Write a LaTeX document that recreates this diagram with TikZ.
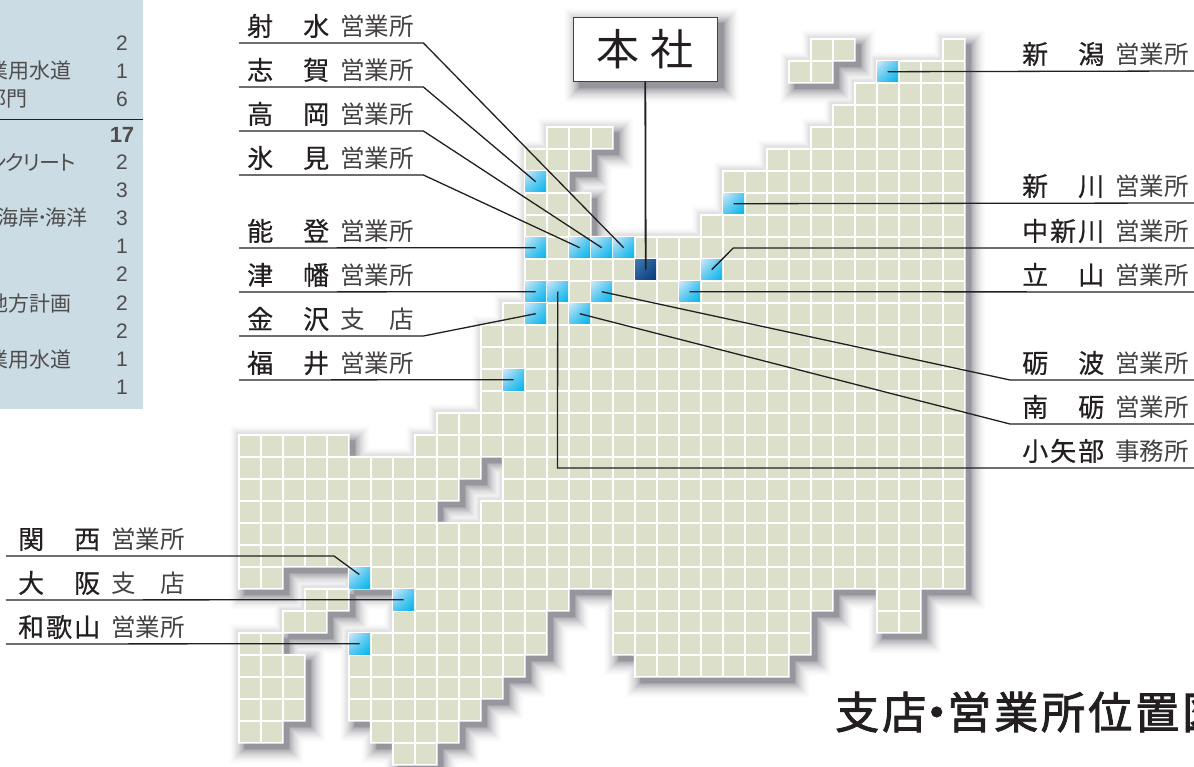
\documentclass[tikz,border=0pt]{standalone}
\usepackage{fontspec}
\usetikzlibrary{shadings}
\setmainfont{Liberation Sans}
\newfontfamily\cjk{Noto Sans CJK JP}
\newfontfamily\cjkb[FakeBold=0.5]{Noto Sans CJK JP}
\newfontfamily\cjkt[FakeBold=2]{Noto Sans CJK JP}
\definecolor{ink}{HTML}{231F20}
\definecolor{panel}{HTML}{CBDCE5}
\definecolor{land}{HTML}{DCE0CB}
\definecolor{cyA}{HTML}{00B5EC}
\definecolor{cyB}{HTML}{55C6EF}
\definecolor{cyC}{HTML}{CBE8F9}
\definecolor{dkA}{HTML}{0C3A80}
\definecolor{dkB}{HTML}{1F5590}
\definecolor{dkC}{HTML}{3F7DB0}
\definecolor{shadowc}{HTML}{454552}
\newcommand{\spans}{0/26/27,0/32/32,1/25/26,1/29/32,2/28/32,3/27/32,4/14/16,4/26/32,5/13/15,5/24/32,6/13/14,6/22/32,7/13/15,7/22/32,8/13/15,8/21/32,9/13/32,10/13/32,11/13/32,12/12/32,13/11/32,14/11/32,15/11/32,16/11/32,17/9/32,18/0/4,18/8/32,19/0/10,19/12/32,20/0/9,20/12/32,21/0/8,21/11/32,22/0/32,23/0/32,24/0/1,24/5/32,25/3/4,25/7/14,25/17/26,25/29/30,26/2/3,26/7/13,26/17/25,26/29/30,27/0/1,27/5/13,27/17/25,28/0/2,28/5/12,28/18/24,29/0/2,29/5/11,30/0/2,30/5/10,31/0/1,31/6/9,32/7/8}
\newcommand{\shadelayers}{0.3/0.18,1/0.10,2/0.08,3/0.07,4/0.06,5/0.05,6/0.05,7/0.04,8/0.04,9/0.03,10/0.03,11/0.02,12/0.02,13/0.015,14/0.01,15/0.01}
\newcommand{\lb}[4]{\makebox[#1pt][l]{\hspace*{#2pt}#3\hspace*{11pt}#4}}
\newcommand{\nmm}[2]{{\cjkb\makebox[82pt][s]{#1\hfill#2}}}
\newcommand{\nmmm}[3]{{\cjkb\makebox[82pt][s]{#1\hfill#2\hfill#3}}}
\newcommand{\sx}[1]{{\color{ink!85}\fontsize{24.5}{24.5}\selectfont #1}}
\newcommand{\sxx}[2]{{\color{ink!85}\fontsize{24.5}{24.5}\selectfont\makebox[74pt][s]{#1\hfill#2}}}
\newcommand{\ttl}[1]{\makebox[47pt][c]{#1}}
\tikzset{
  x=1pt,y=-1pt,
  lbl/.style={inner sep=0pt,anchor=south west,text depth=7pt,text height=22pt,text=ink,font=\cjk\fontsize{26}{26}\selectfont},
  wire/.style={draw=ink,line width=1.3pt,line join=miter},
  bluecell/.style={inner sep=0pt,minimum size=20.6pt,shade,upper left=cyC,upper right=cyB,lower left=cyB,lower right=cyA},
  darkcell/.style={inner sep=0pt,minimum size=20.6pt,shade,upper left=dkC,upper right=dkB,lower left=dkB,lower right=dkA},
  ptxt/.style={inner sep=0pt,anchor=east,text=ink!80,font=\cjk\fontsize{21}{21}\selectfont},
  pnum/.style={inner sep=0pt,anchor=center,text=ink!80,font=\fontsize{21}{21}\selectfont},
}
\begin{document}
\begin{tikzpicture}
\useasboundingbox (0,0) rectangle (1194,767);
\clip (0,0) rectangle (1194,767);
% left panel
\fill[panel] (0,0) rectangle (143,409);
\draw[ink,line width=0.9pt] (0,119) -- (143,119);
\node[ptxt] (t1) at (71.5,71) {業用水道};
\node[ptxt] (t2) at (28,99) {部門};
\node[ptxt] (t3) at (78,162) {ン\hspace{-3.5pt}ク\hspace{-3.5pt}リ\hspace{-3.5pt}ー\hspace{-3.5pt}ト};
\node[ptxt] (t4) at (88,218) {海岸\makebox[6pt][c]{･}海洋};
\node[ptxt] (t5) at (71.5,304) {地方計画};
\node[ptxt] (t6) at (71.5,360) {業用水道};
\node[pnum] (n1) at (122,43) {2};
\node[pnum] (n2) at (122,71) {1};
\node[pnum] (n3) at (122,99) {6};
\node[pnum,font=\bfseries\fontsize{22}{22}\selectfont] (n4) at (122,135) {17};
\node[pnum] (n5) at (122,162) {2};
\node[pnum] (n6) at (122,190) {3};
\node[pnum] (n7) at (122,218) {3};
\node[pnum] (n8) at (122,246) {1};
\node[pnum] (n9) at (122,274) {2};
\node[pnum] (n10) at (122,303) {2};
\node[pnum] (n11) at (122,331) {2};
\node[pnum] (n12) at (122,359) {1};
\node[pnum] (n13) at (122,387) {1};
% map shadow
\foreach \e/\o in \shadelayers {
  \fill[shadowc,opacity=\o]
    \foreach \r/\a/\b in \spans {
      ({238.7+6+22*\a-\e},{38.7+6+22*\r-\e}) rectangle ({238.7+6+22*(\b+1)+\e},{38.7+6+22*(\r+1)+\e})
    };
}
% white halo and cells
\fill[white]
  \foreach \r/\a/\b in \spans {
    ({238.7+22*\a-0.85},{38.7+22*\r-0.85}) rectangle ({238.7+22*(\b+1)+0.85},{38.7+22*(\r+1)+0.85})
  };
\foreach \r/\a/\b in \spans {
  \foreach \c in {\a,...,\b} {
    \fill[land] ({238.7+22*\c+0.85},{38.7+22*\r+0.85}) rectangle ({238.7+22*\c+21.15},{38.7+22*\r+21.15});
  }
}
% branch cells
\node[bluecell] (imizu)   at ({249.7+22*17},{49.7+22*9}) {};
\node[bluecell] (shika)   at ({249.7+22*13},{49.7+22*6}) {};
\node[bluecell] (takaoka) at ({249.7+22*16},{49.7+22*9}) {};
\node[bluecell] (himi)    at ({249.7+22*15},{49.7+22*9}) {};
\node[bluecell] (noto)    at ({249.7+22*13},{49.7+22*9}) {};
\node[bluecell] (tsubata) at ({249.7+22*13},{49.7+22*11}) {};
\node[bluecell] (kanaz)   at ({249.7+22*13},{49.7+22*12}) {};
\node[bluecell] (fukui)   at ({249.7+22*12},{49.7+22*15}) {};
\node[bluecell] (kansai)  at ({249.7+22*5},{49.7+22*24}) {};
\node[bluecell] (osaka)   at ({249.7+22*7},{49.7+22*25}) {};
\node[bluecell] (waka)    at ({249.7+22*5},{49.7+22*27}) {};
\node[bluecell] (niiga)   at ({249.7+22*29},{49.7+22*1}) {};
\node[bluecell] (niik)    at ({249.7+22*22},{49.7+22*7}) {};
\node[bluecell] (nakan)   at ({249.7+22*21},{49.7+22*10}) {};
\node[bluecell] (tate)    at ({249.7+22*20},{49.7+22*11}) {};
\node[bluecell] (tona)    at ({249.7+22*16},{49.7+22*11}) {};
\node[bluecell] (nanto)   at ({249.7+22*15},{49.7+22*12}) {};
\node[bluecell] (oyabe)   at ({249.7+22*14},{49.7+22*11}) {};
\node[darkcell] (honc)    at ({249.7+22*18},{49.7+22*10}) {};
% labels, left group
\node[lbl] (limizu)   at (239,43)  {\lb{184}{8}{\nmm{射}{水}}{\sx{営業所}}};
\node[lbl] (lshika)   at (239,87)  {\lb{184}{8}{\nmm{志}{賀}}{\sx{営業所}}};
\node[lbl] (ltakaoka) at (239,131) {\lb{184}{8}{\nmm{高}{岡}}{\sx{営業所}}};
\node[lbl] (lhimi)    at (239,175) {\lb{184}{8}{\nmm{氷}{見}}{\sx{営業所}}};
\node[lbl] (lnoto)    at (239,248) {\lb{184}{8}{\nmm{能}{登}}{\sx{営業所}}};
\node[lbl] (ltsubata) at (239,292) {\lb{184}{8}{\nmm{津}{幡}}{\sx{営業所}}};
\node[lbl] (lkanaz)   at (239,336) {\lb{184}{8}{\nmm{金}{沢}}{\sxx{支}{店}}};
\node[lbl] (lfukui)   at (239,380) {\lb{184}{8}{\nmm{福}{井}}{\sx{営業所}}};
% labels, lower left
\node[lbl] (lkansai)  at (6,556) {\lb{184}{12}{\nmm{関}{西}}{\sx{営業所}}};
\node[lbl] (losaka)   at (6,600) {\lb{184}{12}{\nmm{大}{阪}}{\sxx{支}{店}}};
\node[lbl] (lwaka)    at (6,644) {\lb{184}{12}{\nmmm{和}{歌}{山}}{\sx{営業所}}};
% labels, right group
\node[lbl] (lniiga)   at (1010,71)  {\lb{184}{12}{\nmm{新}{潟}}{\sx{営業所}}};
\node[lbl] (lniik)    at (1010,203) {\lb{184}{12}{\nmm{新}{川}}{\sx{営業所}}};
\node[lbl] (lnakan)   at (1010,248) {\lb{184}{12}{\nmmm{中}{新}{川}}{\sx{営業所}}};
\node[lbl] (ltate)    at (1010,292) {\lb{184}{12}{\nmm{立}{山}}{\sx{営業所}}};
\node[lbl] (ltona)    at (1010,380) {\lb{184}{12}{\nmm{砺}{波}}{\sx{営業所}}};
\node[lbl] (lnanto)   at (1010,424) {\lb{184}{12}{\nmm{南}{砺}}{\sx{営業所}}};
\node[lbl] (loyabe)   at (1010,468) {\lb{184}{12}{\nmmm{小}{矢}{部}}{\sx{事務所}}};
% free bends
\coordinate (kkansai) at (334,556);
\coordinate (ekansai) at (359.3,574.5);
\coordinate (knakan) at (733.3,248);
\coordinate (koyabe) at (557.5,468);
% connectors
\draw[wire] (limizu.south west) -- (limizu.south east) -- (imizu.center);
\draw[wire] (lshika.south west) -- (lshika.south east) -- (shika.center);
\draw[wire] (ltakaoka.south west) -- (ltakaoka.south east) -- (takaoka.center);
\draw[wire] (lhimi.south west) -- (lhimi.south east) -- (himi.center);
\draw[wire] (lnoto.south west) -- (noto.center);
\draw[wire] (ltsubata.south west) -- (tsubata.center);
\draw[wire] (lkanaz.south west) -- (lkanaz.south east) -- (kanaz.center);
\draw[wire] (lfukui.south west) -- (fukui.center);
\draw[wire] (lkansai.south west) -- (kkansai) -- (ekansai);
\draw[wire] (losaka.south west) -- (osaka.center);
\draw[wire] (lwaka.south west) -- (waka.center);
\draw[wire] (lniiga.south east) -- (niiga.center);
\draw[wire] (lniik.south east) -- (niik.center);
\draw[wire] (lnakan.south east) -- (knakan) -- (nakan.center);
\draw[wire] (ltate.south east) -- (tate.center);
\draw[wire] (ltona.south east) -- (ltona.south west) -- (tona.center);
\draw[wire] (lnanto.south east) -- (lnanto.south west) -- (nanto.center);
\draw[wire] (loyabe.south east) -- (koyabe) -- (oyabe.center);
% head office
\foreach \e/\o in \shadelayers {
  \fill[shadowc,opacity=\o] ({573+6-\e},{17+6-\e}) rectangle ({718+6+\e},{82+6+\e});
}
\node[draw=ink!85,line width=1.5pt,fill=white,minimum width=144pt,minimum height=64pt,inner sep=0pt,text=ink,font=\cjk\fontsize{43}{43}\selectfont] (hq) at (645.3,49.5) {本\hspace{11pt}社};
\draw[wire,line width=1.8pt] (hq.south) -- (honc.center);
% title
\node[inner sep=0pt,anchor=west,text=ink,font=\cjkt\fontsize{44}{44}\selectfont] (title) at (833.5,712) {\ttl{支}\ttl{店}\makebox[18pt][c]{\raisebox{-1.5pt}{\fontsize{48}{48}\selectfont ・}}\ttl{営}\ttl{業}\ttl{所}\ttl{位}\ttl{置}\ttl{図}};
\end{tikzpicture}
\end{document}
